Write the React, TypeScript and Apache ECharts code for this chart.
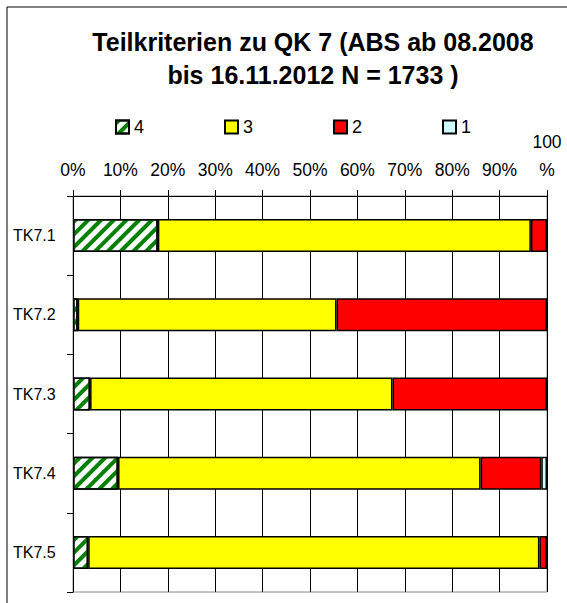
import React, { useEffect, useRef } from 'react';
import * as echarts from 'echarts';

const categories = ['TK7.1', 'TK7.2', 'TK7.3', 'TK7.4', 'TK7.5'];
const seriesNames = ['4', '3', '2', '1'];
const values4 = [17.9, 1.0, 3.6, 9.5, 3.2];
const values3 = [78.7, 54.6, 63.8, 76.5, 95.2];
const values2 = [3.4, 44.4, 32.6, 12.8, 1.6];
const values1 = [0, 0, 0, 1.2, 0];
const seriesColors = ['#ffffff', '#ffff00', '#ff0000', '#ccffff'];
const titleText = 'Teilkriterien zu QK 7 (ABS ab 08.2008\nbis 16.11.2012 N = 1733 )';

const FONT = '"Liberation Sans", Arial, Helvetica, sans-serif';

export default function App() {
  const ref = useRef<HTMLDivElement>(null);
  useEffect(() => {
    if (!ref.current) return;
    const chart = echarts.init(ref.current, null, { renderer: 'svg' });
    const allValues = [values4, values3, values2, values1];
    const series = seriesNames.map((name, i) => ({
      name,
      type: 'bar',
      stack: 'total',
      barWidth: 33,
      data: allValues[i],
      itemStyle: {
        color: seriesColors[i],
        borderColor: '#000',
        borderWidth: 1.5,
        ...(i === 0
          ? {
              decal: {
                symbol: 'rect',
                symbolSize: 1,
                color: '#008000',
                backgroundColor: '#ffffff',
                dashArrayX: [1, 0],
                dashArrayY: [3.5, 5],
                rotation: -Math.PI / 4,
              },
            }
          : {}),
      },
    }));
    chart.setOption({
      animation: false,
      backgroundColor: '#fff',
      textStyle: { fontFamily: FONT },
      title: {
        text: titleText,
        left: 313,
        top: 25,
        padding: 0,
        textAlign: 'center',
        textStyle: {
          fontFamily: FONT,
          fontSize: 25,
          fontWeight: 'bold',
          color: '#000',
          lineHeight: 33,
        },
      },
      legend: {
        data: seriesNames,
        left: 115,
        top: 118,
        padding: 0,
        itemWidth: 13,
        itemHeight: 13,
        itemGap: 80,
        icon: 'rect',
        selectedMode: false,
        textStyle: { fontFamily: FONT, fontSize: 18, color: '#000' },
      },
      grid: {
        left: 73,
        top: 196,
        width: 474,
        height: 396,
        show: true,
        borderColor: '#888',
        borderWidth: 1,
        backgroundColor: '#fff',
      },
      xAxis: {
        type: 'value',
        position: 'top',
        min: 0,
        max: 100,
        interval: 10,
        axisLine: { show: true, lineStyle: { color: '#000', width: 1 } },
        axisTick: { show: true, length: 6, lineStyle: { color: '#000' } },
        splitLine: { show: true, lineStyle: { color: '#000', width: 1 } },
        axisLabel: {
          fontFamily: FONT,
          fontSize: 17.5,
          color: '#000',
          margin: 12,
          lineHeight: 28,
          formatter: (v: number) => (v === 100 ? '100\n%' : v + '%'),
        },
      },
      yAxis: {
        type: 'category',
        data: categories,
        inverse: true,
        axisLine: { show: true, lineStyle: { color: '#000', width: 1 } },
        axisTick: { show: true, length: 6, lineStyle: { color: '#000' } },
        splitLine: { show: false },
        axisLabel: {
          fontFamily: FONT,
          fontSize: 16,
          color: '#000',
          align: 'left',
          margin: 60,
        },
      },
      graphic: [
        {
          type: 'rect',
          silent: true,
          z: -10,
          shape: { x: 7, y: 7, width: 700, height: 700 },
          style: { fill: 'none', stroke: '#000', lineWidth: 1 },
        },
      ],
      series,
    });
    return () => chart.dispose();
  }, []);
  return <div ref={ref} style={{ width: 567, height: 603, position: 'absolute', left: 0, top: 0 }} />;
}
